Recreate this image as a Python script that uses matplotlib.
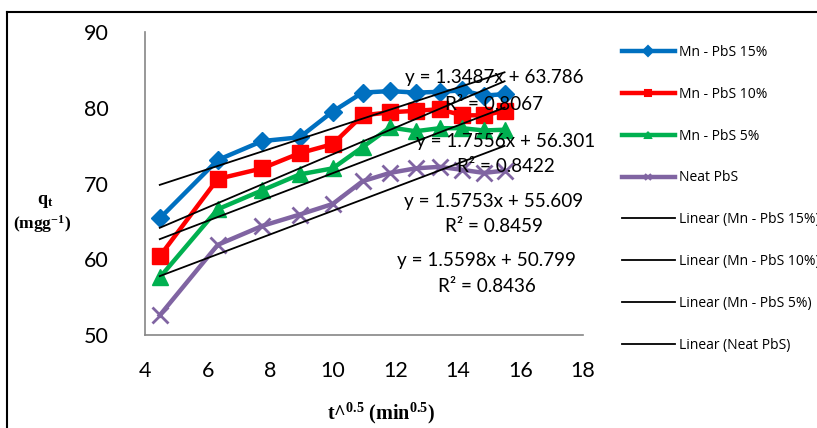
# Cinetica di adsorbimento: q_t in funzione di t^0.5 con rette di regressione
import numpy as np
import matplotlib
matplotlib.use("Agg")
import matplotlib.pyplot as plt
from matplotlib.lines import Line2D

# Tempi di contatto (min) e relativa radice quadrata
tempi = [20, 40, 60, 80, 100, 120, 140, 160, 180, 200, 220, 240]
sqrt_t = np.sqrt(tempi)

# q_t (mg/g) per ogni campione
mn15 = [65.4, 73.1, 75.6, 76.1, 79.5, 82.0, 82.2, 82.0, 82.1, 82.3, 81.6, 81.8]
mn10 = [60.4, 70.6, 72.0, 74.0, 75.2, 79.0, 79.4, 79.6, 79.8, 79.0, 79.0, 79.6]
mn5 = [57.6, 66.6, 69.1, 71.2, 72.0, 74.8, 77.4, 76.9, 77.3, 77.3, 77.0, 77.1]
neat = [52.6, 61.9, 64.4, 65.9, 67.3, 70.3, 71.4, 72.0, 72.2, 71.8, 71.4, 71.7]

nomi = ["Mn - PbS 15%", "Mn - PbS 10%", "Mn - PbS 5%", "Neat PbS"]

# Coefficienti delle rette (pendenza, intercetta) e R^2
pendenze = [1.3487, 1.7556, 1.5753, 1.5598]
intercette = [63.786, 56.301, 55.609, 50.799]
r2 = [0.8067, 0.8422, 0.8459, 0.8436]

colori = ["#0070C0", "#FF0000", "#00B050", "#8064A2"]
marker = ["D", "s", "^", "x"]
msize = [9, 12, 12, 11]

# posizione delle etichette con l'equazione (coordinate dei dati)
pos_eq = [(15.15, 83.95, 80.4), (15.53, 75.5, 72.2),
          (15.15, 67.6, 64.3), (14.92, 59.9, 56.35)]

font_calibri = "Lato"
matplotlib.rc("mathtext", fontset="custom", rm="Liberation Serif",
              bf="Liberation Serif:bold", it="Liberation Serif:italic")

fig = plt.figure(figsize=(8.17, 4.28), dpi=100)
ax = fig.add_axes([145/817, 1 - 335/428, 438/817, 303/428])

serie = [mn15, mn10, mn5, neat]
for i, y in enumerate(serie):
	ax.plot(sqrt_t, y, color=colori[i], lw=3.2, marker=marker[i],
	        ms=msize[i], mew=2 if marker[i] == "x" else 1,
	        label=nomi[i], zorder=2)

# rette di regressione
for i in range(4):
	yfit = pendenze[i] * sqrt_t + intercette[i]
	ax.plot(sqrt_t, yfit, color="black", lw=1.3, zorder=3,
	        label="Linear (%s)" % nomi[i])

for i in range(4):
	x0, y_eq, y_r2 = pos_eq[i]
	ax.text(x0, y_eq, "y = %.4fx + %.3f" % (pendenze[i], intercette[i]),
	        ha="center", va="center", fontsize=13.6, family=font_calibri, zorder=4)
	ax.text(x0, y_r2, "R² = %.4f" % r2[i],
	        ha="center", va="center", fontsize=13.6, family=font_calibri, zorder=4)

ax.set_xlim(4, 18)
ax.set_ylim(50, 90)
ax.set_xticks(range(4, 19, 2))
ax.set_yticks(range(50, 91, 10))
ax.tick_params(axis="x", length=0, pad=19, labelsize=15.5)
ax.tick_params(axis="y", length=0, pad=26, labelsize=15.5)
for lab in ax.get_xticklabels() + ax.get_yticklabels():
	lab.set_family(font_calibri)
ax.spines["right"].set_visible(False)
ax.spines["top"].set_visible(False)
for s in ["left", "bottom"]:
	ax.spines[s].set_color("#868686")
	ax.spines[s].set_linewidth(1.2)

# etichette degli assi
fig.text(45/817, 1 - 202/428, r"q$_{\mathbf{t}}$", ha="center", va="center",
         family="Liberation Serif", weight="bold", fontsize=13)
fig.text(42/817, 1 - 224/428, r"(mgg$^{\mathbf{-1}}$)", ha="center", va="center",
         family="Liberation Serif", weight="bold", fontsize=12.5)
fig.text(381/817, 1 - 413/428, r"t^$^{\mathbf{0.5}}$ (min$^{\mathbf{0.5}}$)",
         ha="center", va="center", family="Liberation Serif", weight="bold",
         fontsize=14.5)

# legenda a destra
leg_handles = []
for i in range(4):
	leg_handles.append(Line2D([], [], color=colori[i], lw=3.2, marker=marker[i],
	                          ms=5, mew=1.5))
for i in range(4):
	leg_handles.append(Line2D([], [], color="black", lw=1.3))
leg_labels = nomi + ["Linear (%s)" % n for n in nomi]
fig.legend(leg_handles, leg_labels, loc="upper left",
           bbox_to_anchor=(622/817, 1 - 45/428), frameon=False,
           prop={"family": "Open Sans", "size": 10}, handlelength=3.8,
           handletextpad=0.3, labelspacing=1.93, borderpad=0, borderaxespad=0)

# cornice nera in alto e a sinistra
fig.add_artist(Line2D([7/817, 7/817], [0, 1 - 12/428], color="black", lw=1.5,
                      transform=fig.transFigure))
fig.add_artist(Line2D([7/817, 1], [1 - 12/428, 1 - 12/428], color="black", lw=1.5,
                      transform=fig.transFigure))

fig.savefig("out.png", dpi=100)
